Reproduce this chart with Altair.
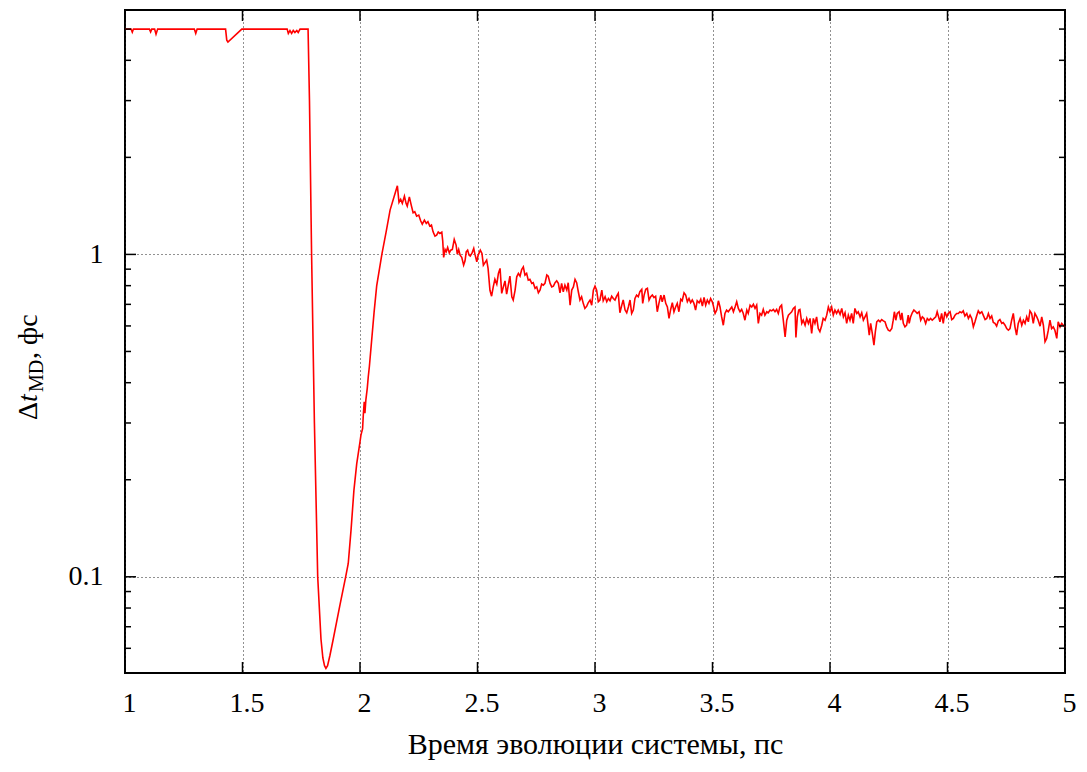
import altair as alt
import pandas as pd

# ---- data (time in ps, step in fs) ----
plateau = [
    (1.000, 5.00), (1.026, 5.00), (1.031, 4.89), (1.036, 5.00), (1.104, 5.00),
    (1.109, 4.90), (1.114, 5.00), (1.126, 5.00), (1.132, 4.82), (1.139, 5.00),
    (1.295, 5.00), (1.301, 4.85), (1.307, 5.00), (1.428, 5.00), (1.433, 4.62),
    (1.438, 4.56), (1.497, 5.00), (1.690, 5.00), (1.695, 4.85), (1.702, 4.95),
    (1.709, 4.85), (1.716, 4.95), (1.723, 4.88), (1.731, 4.95), (1.737, 4.88),
    (1.745, 5.00), (1.779, 5.00),
]
drop = [
    (1.785, 3.00), (1.794, 1.00), (1.806, 0.30), (1.820, 0.100), (1.834, 0.064),
    (1.842, 0.056), (1.849, 0.053), (1.855, 0.052), (1.862, 0.053), (1.872, 0.057),
    (1.886, 0.064), (1.915, 0.082), (1.939, 0.100), (1.950, 0.110), (1.962, 0.140),
    (1.974, 0.185), (1.986, 0.224), (2.000, 0.262), (2.004, 0.275), (2.011, 0.288),
    (2.014, 0.317), (2.018, 0.349), (2.021, 0.322), (2.025, 0.354), (2.031, 0.385),
    (2.035, 0.416), (2.040, 0.450), (2.060, 0.662), (2.071, 0.799), (2.093, 1.000),
    (2.111, 1.172), (2.128, 1.372),
]
decay = [
    (2.159, 1.633), (2.166, 1.450), (2.173, 1.481), (2.180, 1.440), (2.189, 1.516),
    (2.196, 1.440), (2.201, 1.412), (2.210, 1.508), (2.218, 1.422), (2.226, 1.346),
    (2.233, 1.356), (2.241, 1.314), (2.250, 1.324), (2.258, 1.272), (2.265, 1.241),
    (2.274, 1.278), (2.282, 1.248), (2.289, 1.263), (2.297, 1.224), (2.304, 1.233),
    (2.311, 1.175), (2.319, 1.140), (2.326, 1.148), (2.333, 1.173), (2.340, 1.162),
    (2.348, 1.173), (2.352, 1.102), (2.356, 0.979), (2.362, 1.036), (2.367, 1.019),
    (2.373, 1.051), (2.380, 1.011), (2.386, 1.031), (2.393, 1.036), (2.401, 1.113),
    (2.409, 1.069), (2.414, 1.002), (2.420, 1.036), (2.426, 0.995), (2.433, 0.979),
    (2.441, 0.926), (2.447, 0.955), (2.452, 1.019), (2.458, 1.031), (2.464, 0.995),
    (2.469, 0.988), (2.477, 1.011), (2.484, 1.044), (2.489, 1.002), (2.497, 0.949),
    (2.503, 0.995), (2.512, 1.031), (2.519, 1.007), (2.525, 0.926), (2.532, 0.943),
    (2.539, 0.960), (2.545, 0.905),
]
noise_a = [
    (2.553, 0.774), (2.560, 0.742), (2.567, 0.793), (2.574, 0.837), (2.582, 0.809),
    (2.589, 0.873), (2.596, 0.905), (2.603, 0.757), (2.610, 0.793), (2.617, 0.828),
    (2.624, 0.753), (2.631, 0.803), (2.638, 0.856), (2.646, 0.739), (2.652, 0.722),
    (2.660, 0.775), (2.667, 0.852), (2.674, 0.873), (2.681, 0.856), (2.688, 0.898),
    (2.695, 0.915), (2.702, 0.863), (2.709, 0.873), (2.716, 0.832), (2.723, 0.837),
    (2.731, 0.813), (2.737, 0.817), (2.745, 0.785), (2.752, 0.793), (2.759, 0.760),
    (2.766, 0.775), (2.773, 0.809), (2.780, 0.803), (2.787, 0.813), (2.795, 0.863),
    (2.801, 0.856), (2.809, 0.813), (2.816, 0.793), (2.823, 0.797), (2.830, 0.817),
    (2.837, 0.828), (2.844, 0.813), (2.851, 0.760), (2.858, 0.813), (2.865, 0.766),
    (2.872, 0.803), (2.880, 0.775), (2.886, 0.817), (2.894, 0.696), (2.901, 0.775),
    (2.908, 0.793), (2.915, 0.837), (2.922, 0.817), (2.929, 0.766), (2.936, 0.722),
    (2.943, 0.739), (2.950, 0.705), (2.957, 0.680), (2.965, 0.691), (2.971, 0.708),
    (2.979, 0.722), (2.986, 0.696), (2.993, 0.775), (3.000, 0.797), (3.007, 0.775),
    (3.014, 0.713), (3.021, 0.722), (3.029, 0.775), (3.035, 0.718), (3.043, 0.739),
    (3.050, 0.713), (3.057, 0.730), (3.064, 0.718), (3.071, 0.742), (3.078, 0.730),
    (3.085, 0.722), (3.092, 0.742), (3.099, 0.757), (3.106, 0.659), (3.114, 0.696),
    (3.120, 0.722), (3.128, 0.672), (3.135, 0.659), (3.142, 0.687), (3.149, 0.722),
    (3.156, 0.656), (3.163, 0.672), (3.170, 0.730), (3.177, 0.748), (3.184, 0.739),
    (3.191, 0.766),
]
noise_b = [
    (3.199, 0.779), (3.203, 0.705), (3.209, 0.748), (3.216, 0.779), (3.223, 0.785),
    (3.230, 0.722), (3.237, 0.739), (3.244, 0.748), (3.251, 0.735), (3.258, 0.742),
    (3.265, 0.664), (3.272, 0.705), (3.280, 0.748), (3.286, 0.713), (3.294, 0.748),
    (3.301, 0.705), (3.308, 0.687), (3.315, 0.633), (3.322, 0.675), (3.329, 0.708),
    (3.336, 0.664), (3.343, 0.687), (3.350, 0.705), (3.357, 0.664), (3.365, 0.726),
    (3.371, 0.718), (3.379, 0.760), (3.386, 0.748), (3.393, 0.713), (3.400, 0.730),
    (3.407, 0.708), (3.414, 0.722), (3.421, 0.705), (3.428, 0.672), (3.435, 0.718),
    (3.443, 0.708), (3.450, 0.726), (3.457, 0.691), (3.464, 0.735), (3.471, 0.696),
    (3.478, 0.722), (3.485, 0.705), (3.492, 0.730), (3.499, 0.713), (3.503, 0.696),
    (3.511, 0.656), (3.518, 0.672), (3.525, 0.718), (3.532, 0.687), (3.539, 0.640),
    (3.546, 0.603), (3.553, 0.656), (3.560, 0.672), (3.567, 0.664), (3.574, 0.675),
    (3.582, 0.687), (3.589, 0.664), (3.596, 0.687), (3.603, 0.713), (3.610, 0.680),
    (3.617, 0.664), (3.624, 0.675), (3.631, 0.656), (3.638, 0.625), (3.646, 0.672),
    (3.652, 0.656), (3.660, 0.696), (3.667, 0.687), (3.674, 0.700), (3.681, 0.680),
    (3.688, 0.696), (3.695, 0.611), (3.702, 0.656), (3.709, 0.648), (3.716, 0.675),
    (3.723, 0.648), (3.731, 0.664), (3.737, 0.659), (3.745, 0.672), (3.752, 0.668),
    (3.759, 0.675), (3.766, 0.664), (3.773, 0.675), (3.780, 0.656), (3.787, 0.687),
    (3.794, 0.696), (3.801, 0.628), (3.809, 0.555), (3.816, 0.625), (3.823, 0.648),
    (3.830, 0.656), (3.837, 0.664), (3.844, 0.680), (3.851, 0.687), (3.855, 0.553),
    (3.861, 0.640), (3.867, 0.672), (3.872, 0.675),
]
noise_c = [
    (3.880, 0.611), (3.886, 0.625), (3.894, 0.603), (3.901, 0.633), (3.908, 0.611),
    (3.915, 0.633), (3.922, 0.569), (3.929, 0.633), (3.936, 0.611), (3.943, 0.640),
    (3.950, 0.589), (3.957, 0.576), (3.965, 0.603), (3.971, 0.633), (3.979, 0.625),
    (3.986, 0.648), (3.993, 0.687), (4.000, 0.664), (4.007, 0.687), (4.014, 0.648),
    (4.021, 0.672), (4.028, 0.656), (4.035, 0.672), (4.043, 0.652), (4.050, 0.680),
    (4.057, 0.640), (4.064, 0.659), (4.071, 0.611), (4.078, 0.648), (4.085, 0.625),
    (4.092, 0.656), (4.099, 0.611), (4.106, 0.680), (4.114, 0.656), (4.120, 0.664),
    (4.128, 0.640), (4.135, 0.659), (4.142, 0.625), (4.149, 0.640), (4.156, 0.656),
    (4.163, 0.596), (4.167, 0.562), (4.173, 0.611), (4.180, 0.569), (4.187, 0.523),
    (4.193, 0.576), (4.199, 0.618), (4.206, 0.625), (4.213, 0.618), (4.220, 0.628),
    (4.227, 0.622), (4.234, 0.618), (4.241, 0.596), (4.248, 0.582), (4.255, 0.579),
    (4.263, 0.589), (4.269, 0.625), (4.274, 0.664), (4.280, 0.625), (4.286, 0.656),
    (4.294, 0.664), (4.301, 0.625), (4.306, 0.659), (4.312, 0.611), (4.319, 0.596),
    (4.326, 0.603), (4.333, 0.648), (4.337, 0.611), (4.343, 0.640), (4.350, 0.659),
    (4.357, 0.672), (4.365, 0.664), (4.371, 0.656), (4.379, 0.664), (4.386, 0.625),
    (4.393, 0.640), (4.400, 0.633), (4.407, 0.611), (4.414, 0.633), (4.421, 0.625),
    (4.428, 0.633), (4.435, 0.625), (4.443, 0.633), (4.450, 0.640), (4.456, 0.664),
]
noise_d = [
    (4.468, 0.618), (4.475, 0.656), (4.482, 0.611), (4.489, 0.664), (4.497, 0.640),
    (4.503, 0.656), (4.511, 0.664), (4.518, 0.628), (4.525, 0.633), (4.532, 0.648),
    (4.539, 0.656), (4.546, 0.656), (4.553, 0.664), (4.560, 0.659), (4.567, 0.668),
    (4.574, 0.644), (4.582, 0.656), (4.589, 0.633), (4.596, 0.648), (4.603, 0.633),
    (4.610, 0.596), (4.617, 0.618), (4.624, 0.644), (4.631, 0.668), (4.638, 0.656),
    (4.646, 0.664), (4.652, 0.648), (4.660, 0.628), (4.667, 0.633), (4.674, 0.656),
    (4.681, 0.633), (4.688, 0.644), (4.695, 0.615), (4.702, 0.611), (4.709, 0.599),
    (4.716, 0.622), (4.723, 0.628), (4.731, 0.611), (4.737, 0.615), (4.745, 0.603),
    (4.752, 0.589), (4.759, 0.582), (4.766, 0.589), (4.773, 0.625), (4.780, 0.656),
    (4.787, 0.596), (4.794, 0.562), (4.801, 0.611), (4.809, 0.633), (4.816, 0.603),
    (4.823, 0.625), (4.830, 0.611), (4.837, 0.640), (4.844, 0.618), (4.851, 0.668),
    (4.858, 0.656), (4.865, 0.611), (4.872, 0.656), (4.880, 0.640), (4.886, 0.625),
    (4.894, 0.599), (4.901, 0.640), (4.908, 0.603), (4.915, 0.536), (4.922, 0.549),
    (4.929, 0.582), (4.936, 0.625), (4.943, 0.589), (4.950, 0.596), (4.957, 0.582),
    (4.965, 0.549), (4.971, 0.618), (4.979, 0.596), (4.986, 0.611), (4.993, 0.603),
    (5.000, 0.596),
]

x_tick_values = [1, 1.5, 2, 2.5, 3, 3.5, 4, 4.5, 5]
y_major_ticks = [0.1, 1]
y_minor_ticks = [0.06, 0.07, 0.08, 0.09, 0.2, 0.3, 0.4, 0.5, 0.6, 0.7, 0.8, 0.9, 2, 3, 4, 5]
x_title = "Время эволюции системы, пс"
y_title_parts = ["Δ", "t", "MD", ", фс"]

W, H = 940, 663
FONT = "Liberation Serif"
FS_LAB = 28
FS_TITLE = 30

df = pd.DataFrame(plateau + drop + decay + noise_a + noise_b + noise_c + noise_d,
                  columns=["t", "v"])
df_xt = pd.DataFrame({"t": x_tick_values})
df_ymaj = pd.DataFrame({"v": y_major_ticks})
df_ymin = pd.DataFrame({"v": y_minor_ticks})

xs = alt.Scale(domain=[1, 5], nice=False, zero=False)
ys = alt.Scale(type="log", domain=[0.0503, 5.73], nice=False)

x_axis = alt.Axis(
    values=x_tick_values, format="~g", grid=True, gridDash=[1, 3],
    gridColor="#222222", gridWidth=1, ticks=False, domain=False,
    labelFont=FONT, labelFontSize=FS_LAB, labelColor="black", labelPadding=16,
    labelFlush=False, labelOffset=4,
    title=x_title, titleFont=FONT, titleFontSize=FS_TITLE, titleFontWeight="normal",
    titleColor="black", titlePadding=12)
y_axis = alt.Axis(
    values=y_major_ticks, format="~g", grid=True, gridDash=[1, 3],
    gridColor="#222222", gridWidth=1, ticks=False, domain=False,
    labelFont=FONT, labelFontSize=FS_LAB, labelColor="black", labelPadding=22,
    labelFlush=False, title=None)

line = alt.Chart(df).mark_line(color="#ff0000", strokeWidth=1.6).encode(
    x=alt.X("t:Q", scale=xs, axis=x_axis),
    y=alt.Y("v:Q", scale=ys, axis=y_axis),
    order="t:Q",
)

def xrule(y1, y2):
    return alt.Chart(df_xt).mark_rule(color="black", strokeWidth=1.5).encode(
        x=alt.X("t:Q", scale=xs, axis=x_axis), y=alt.value(y1), y2=alt.value(y2))

def yrule(data, x1, x2):
    return alt.Chart(data).mark_rule(color="black", strokeWidth=1.5).encode(
        y=alt.Y("v:Q", scale=ys, axis=y_axis), x=alt.value(x1), x2=alt.value(x2))

L_MAJ, L_MIN = 11, 6
ticks = [
    xrule(H - L_MAJ, H), xrule(0, L_MAJ),
    yrule(df_ymaj, 0, L_MAJ), yrule(df_ymaj, W - L_MAJ, W),
    yrule(df_ymin, 0, L_MIN), yrule(df_ymin, W - L_MIN, W),
]

one = alt.Data(values=[{"k": 1}])
def ytxt(txt, y, x, size=28, style="normal"):
    return alt.Chart(one).mark_text(
        text=txt, font=FONT, fontSize=size, fontStyle=style, color="black",
        angle=270, align="left", baseline="alphabetic",
    ).encode(x=alt.value(x), y=alt.value(y))

ytitle = [
    ytxt(y_title_parts[0], 410, -88),
    ytxt(y_title_parts[1], 392, -88, style="italic"),
    ytxt(y_title_parts[2], 382, -82, size=20),
    ytxt(y_title_parts[3], 349, -88),
]

chart = alt.layer(line, *ticks, *ytitle).properties(
    width=W, height=H,
    autosize=alt.AutoSizeParams(type="none"),
    padding={"left": 117, "top": 2, "right": 14, "bottom": 91},
).configure_view(stroke="black", strokeWidth=2)

chart.save("out.html", embed_options={"renderer": "svg", "actions": False})
